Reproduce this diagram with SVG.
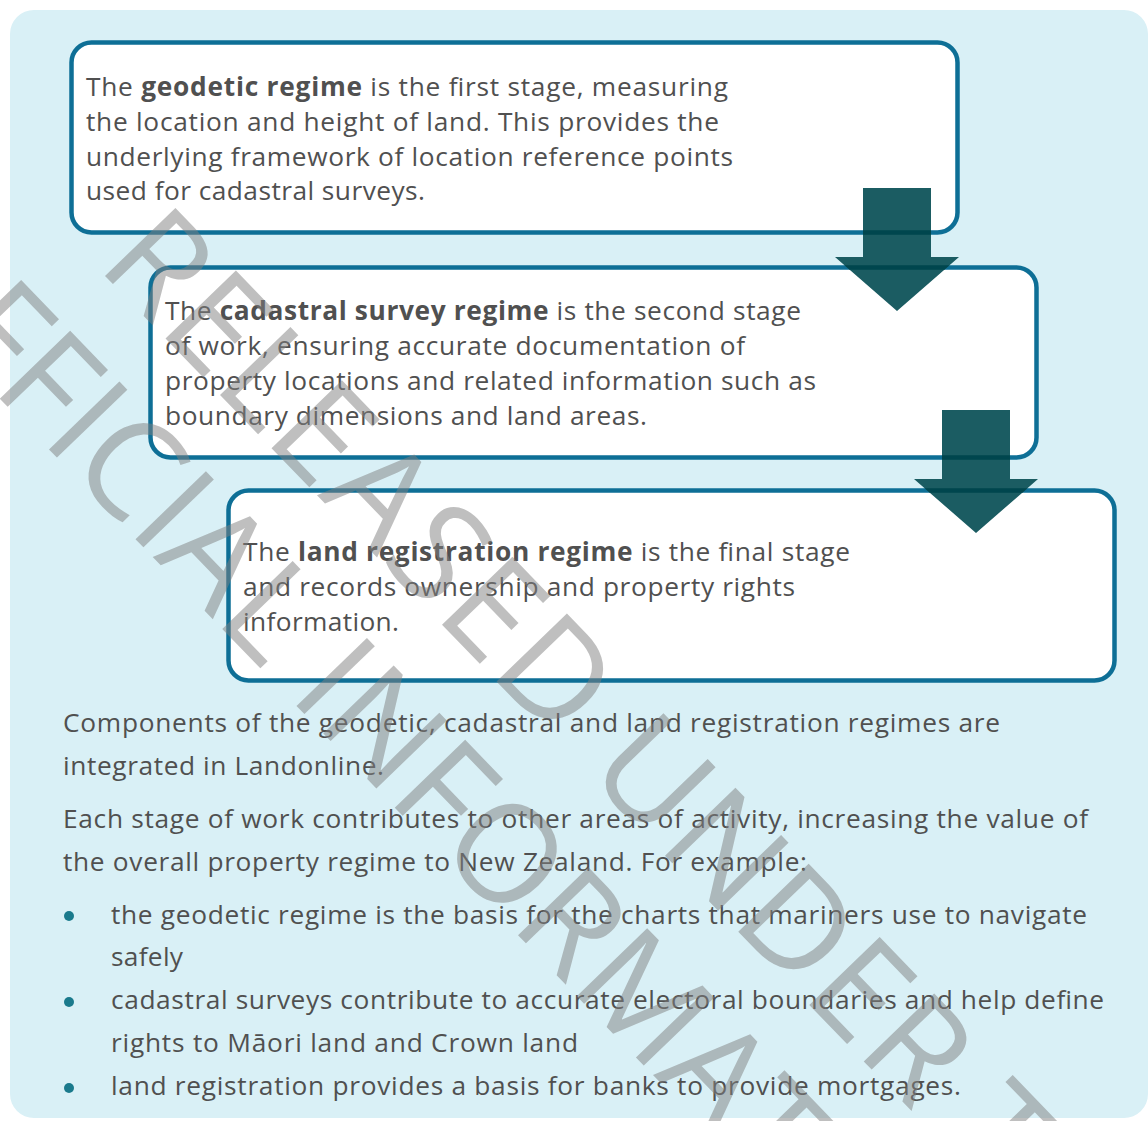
<svg xmlns="http://www.w3.org/2000/svg" width="1148" height="1121" viewBox="0 0 1148 1121">
<defs>
<style>
.t{font-family:"Open Sans","Noto Sans","Liberation Sans",sans-serif;font-size:26.3px;fill:#505050;}
.b{font-weight:700;}
.box{fill:#ffffff;stroke:#0e6f96;stroke-width:4.5;}
.arr{fill:#1b5c62;}
.dk{fill:none;stroke:#00464e;stroke-width:4.5;}
.dot{fill:#1a7a8c;}
.wm{font-family:"Open Sans","Noto Sans",sans-serif;font-size:137px;fill:#808080;fill-opacity:0.5;}
</style>
<clipPath id="c1"><polygon points="863,188 931,188 931,257 959,257 897,311 835,257 863,257"/></clipPath>
<clipPath id="c2"><polygon points="942,410 1010,410 1010,479 1038,479 976,533 914,479 942,479"/></clipPath>
</defs>
<rect x="10" y="10" width="1138" height="1108" rx="24" fill="#d9f0f6"/>
<g id="node-geodetic">
<rect class="box" x="71.5" y="42.5" width="886" height="190" rx="20"/>
<text class="t" x="86" y="96" textLength="642" lengthAdjust="spacing">The <tspan class="b">geodetic regime</tspan> is the first stage, measuring</text>
<text class="t" x="86" y="130.7" textLength="633" lengthAdjust="spacing">the location and height of land. This provides the</text>
<text class="t" x="86" y="165.5" textLength="647" lengthAdjust="spacing">underlying framework of location reference points</text>
<text class="t" x="86" y="200.3" textLength="339" lengthAdjust="spacing">used for cadastral surveys.</text>
</g>
<g id="node-cadastral">
<rect class="box" x="150.5" y="267.5" width="886" height="190" rx="20"/>
<text class="t" x="165" y="320" textLength="636" lengthAdjust="spacing">The <tspan class="b">cadastral survey regime</tspan> is the second stage</text>
<text class="t" x="165" y="355" textLength="580" lengthAdjust="spacing">of work, ensuring accurate documentation of</text>
<text class="t" x="165" y="390" textLength="651" lengthAdjust="spacing">property locations and related information such as</text>
<text class="t" x="165" y="425" textLength="482" lengthAdjust="spacing">boundary dimensions and land areas.</text>
</g>
<g id="node-land">
<rect class="box" x="228.5" y="490.5" width="886" height="190" rx="20"/>
<text class="t" x="243" y="561" textLength="607" lengthAdjust="spacing">The <tspan class="b">land registration regime</tspan> is the final stage</text>
<text class="t" x="243" y="596" textLength="552" lengthAdjust="spacing">and records ownership and property rights</text>
<text class="t" x="243" y="631" textLength="156" lengthAdjust="spacing">information.</text>
</g>
<g id="connectors">
<polygon class="arr" points="863,188 931,188 931,257 959,257 897,311 835,257 863,257"/>
<g clip-path="url(#c1)">
<rect class="dk" x="71.5" y="42.5" width="886" height="190" rx="20"/>
<rect class="dk" x="150.5" y="267.5" width="886" height="190" rx="20"/>
</g>
<polygon class="arr" points="942,410 1010,410 1010,479 1038,479 976,533 914,479 942,479"/>
<g clip-path="url(#c2)">
<rect class="dk" x="150.5" y="267.5" width="886" height="190" rx="20"/>
<rect class="dk" x="228.5" y="490.5" width="886" height="190" rx="20"/>
</g>
</g>
<g id="body-text">
<text class="t" x="63" y="732" textLength="937" lengthAdjust="spacing">Components of the geodetic, cadastral and land registration regimes are</text>
<text class="t" x="63" y="775" textLength="321" lengthAdjust="spacing">integrated in Landonline.</text>
<text class="t" x="63" y="828" textLength="1025" lengthAdjust="spacing">Each stage of work contributes to other areas of activity, increasing the value of</text>
<text class="t" x="63" y="871" textLength="744" lengthAdjust="spacing">the overall property regime to New Zealand. For example:</text>
<circle class="dot" cx="69" cy="916" r="5"/>
<text class="t" x="111" y="924" textLength="976" lengthAdjust="spacing">the geodetic regime is the basis for the charts that mariners use to navigate</text>
<text class="t" x="111" y="966" textLength="72" lengthAdjust="spacing">safely</text>
<circle class="dot" cx="69" cy="1002" r="5"/>
<text class="t" x="111" y="1009" textLength="993" lengthAdjust="spacing">cadastral surveys contribute to accurate electoral boundaries and help define</text>
<text class="t" x="111" y="1052" textLength="467" lengthAdjust="spacing">rights to Māori land and Crown land</text>
<circle class="dot" cx="69" cy="1088" r="5"/>
<text class="t" x="111" y="1095" textLength="850" lengthAdjust="spacing">land registration provides a basis for banks to provide mortgages.</text>
</g>
<g id="watermark" transform="rotate(46)">
<text class="wm" x="258" y="116" letter-spacing="2.5">RELEASED UNDER THE</text>
<text class="wm" x="96" y="277">OFFICIAL INFORMATION ACT</text>
</g>
</svg>
